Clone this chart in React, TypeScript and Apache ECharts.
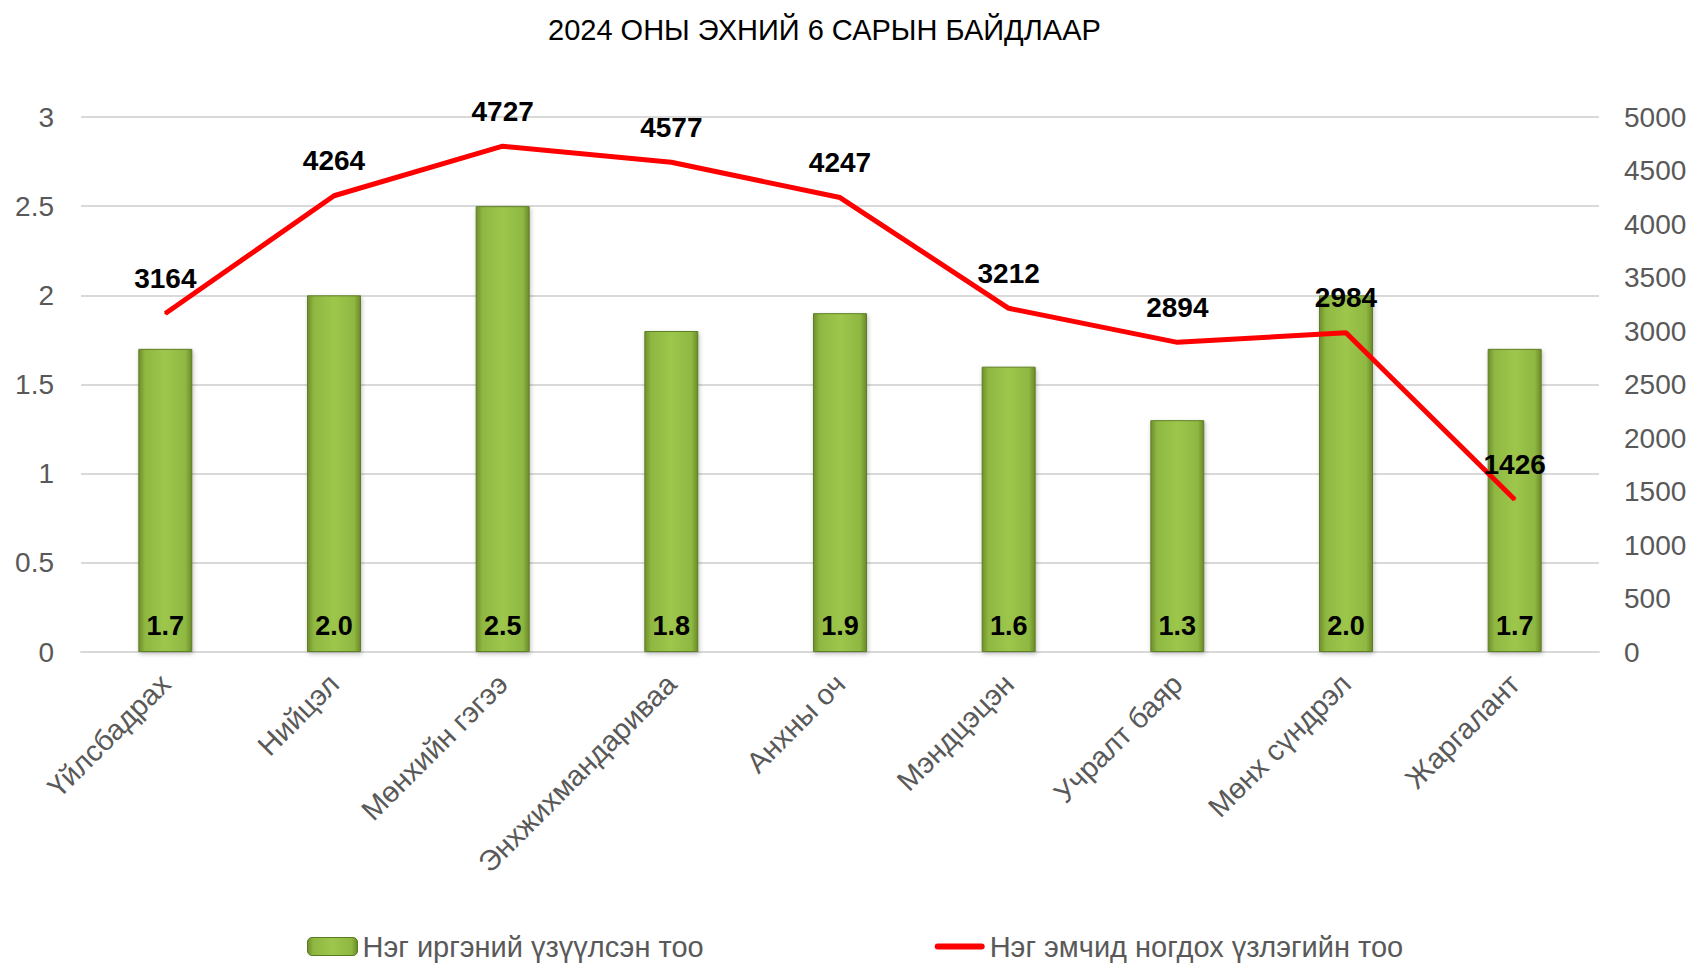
import React, { useEffect, useRef } from "react";
import * as echarts from "echarts";

const categories = [
  "Үйлсбадрах",
  "Нийцэл",
  "Мөнхийн гэгээ",
  "Энхжихмандариваа",
  "Анхны оч",
  "Мэндцэцэн",
  "Учралт баяр",
  "Мөнх сүндрэл",
  "Жаргалант",
];
const barValues = [1.7, 2.0, 2.5, 1.8, 1.9, 1.6, 1.3, 2.0, 1.7];
const lineValues = [3164, 4264, 4727, 4577, 4247, 3212, 2894, 2984, 1426];
const barName = "Нэг иргэний үзүүлсэн тоо";
const lineName = "Нэг эмчид ногдох үзлэгийн тоо";
const titleText = "2024 ОНЫ ЭХНИЙ 6 САРЫН БАЙДЛААР";

const FONT = "'Liberation Sans', Arial, sans-serif";

export default function App() {
  const ref = useRef<HTMLDivElement>(null);
  useEffect(() => {
    document.body.style.margin = "0";
    const chart = echarts.init(ref.current!, null, { renderer: "svg" });
    const barGradient = new echarts.graphic.LinearGradient(0, 0, 1, 0, [
      { offset: 0, color: "#6f8f2c" },
      { offset: 0.12, color: "#8fb842" },
      { offset: 0.5, color: "#9dc64c" },
      { offset: 0.88, color: "#8fb842" },
      { offset: 1, color: "#6a8a28" },
    ]);
    chart.setOption({
      animation: false,
      backgroundColor: "#ffffff",
      textStyle: { fontFamily: FONT },
      title: {
        text: titleText,
        left: 543,
        top: 10,
        textStyle: { fontFamily: FONT, fontSize: 29, fontWeight: "normal", color: "#000000" },
      },
      legend: {
        left: 302,
        top: 927,
        itemGap: 231,
        itemWidth: 50,
        itemHeight: 18,
        textStyle: { fontFamily: FONT, fontSize: 29, color: "#595959" },
        data: [
          { name: barName, itemStyle: { color: barGradient, borderColor: "#5a7a22", borderWidth: 1 } },
          {
            name: lineName,
            icon: "path://M3,0h44a3,3 0 0 1 0,6h-44a3,3 0 0 1 0,-6z",
            itemStyle: { color: "#ff0000", opacity: 1 },
          },
        ],
      },
      grid: { left: 81, right: 93, top: 117, bottom: 312, containLabel: false },
      xAxis: {
        type: "category",
        data: categories,
        axisLine: { show: true, lineStyle: { color: "#d9d9d9", width: 2 } },
        axisTick: { show: false },
        axisLabel: {
          rotate: 45,
          fontSize: 29,
          color: "#595959",
          fontFamily: FONT,
          margin: 27,
          interval: 0,
        },
      },
      yAxis: [
        {
          type: "value",
          min: 0,
          max: 3,
          interval: 0.5,
          axisLine: { show: false },
          axisTick: { show: false },
          splitLine: { lineStyle: { color: "#d9d9d9", width: 2 } },
          axisLabel: { fontSize: 28, color: "#595959", fontFamily: FONT, margin: 27 },
        },
        {
          type: "value",
          min: 0,
          max: 5000,
          interval: 500,
          axisLine: { show: false },
          axisTick: { show: false },
          splitLine: { show: false },
          axisLabel: {
            fontSize: 28,
            color: "#595959",
            fontFamily: FONT,
            margin: 25,
            formatter: (v: number) => String(v),
          },
        },
      ],
      series: [
        {
          name: barName,
          type: "bar",
          yAxisIndex: 0,
          data: barValues,
          barWidth: 54,
          itemStyle: {
            color: barGradient,
            borderColor: "#5f7f25",
            borderWidth: 1,
            shadowColor: "rgba(0,0,0,0.25)",
            shadowBlur: 4,
            shadowOffsetX: 1,
            shadowOffsetY: 2,
          },
          label: {
            show: true,
            position: "insideBottom",
            distance: 13,
            formatter: (p: any) => Number(p.value).toFixed(1),
            fontSize: 27,
            fontWeight: "bold",
            color: "#000000",
            fontFamily: FONT,
          },
          z: 2,
        },
        {
          name: lineName,
          type: "line",
          yAxisIndex: 1,
          data: lineValues,
          symbol: "circle",
          symbolSize: 2,
          showSymbol: true,
          lineStyle: { color: "#ff0000", width: 5 },
          itemStyle: { color: "#ff0000" },
          label: {
            show: true,
            position: "top",
            distance: 20,
            fontSize: 28,
            fontWeight: "bold",
            color: "#000000",
            fontFamily: FONT,
          },
          labelLayout: { hideOverlap: false },
          z: 3,
        },
      ],
    });
    return () => chart.dispose();
  }, []);
  return <div ref={ref} style={{ width: 1692, height: 964 }} />;
}
